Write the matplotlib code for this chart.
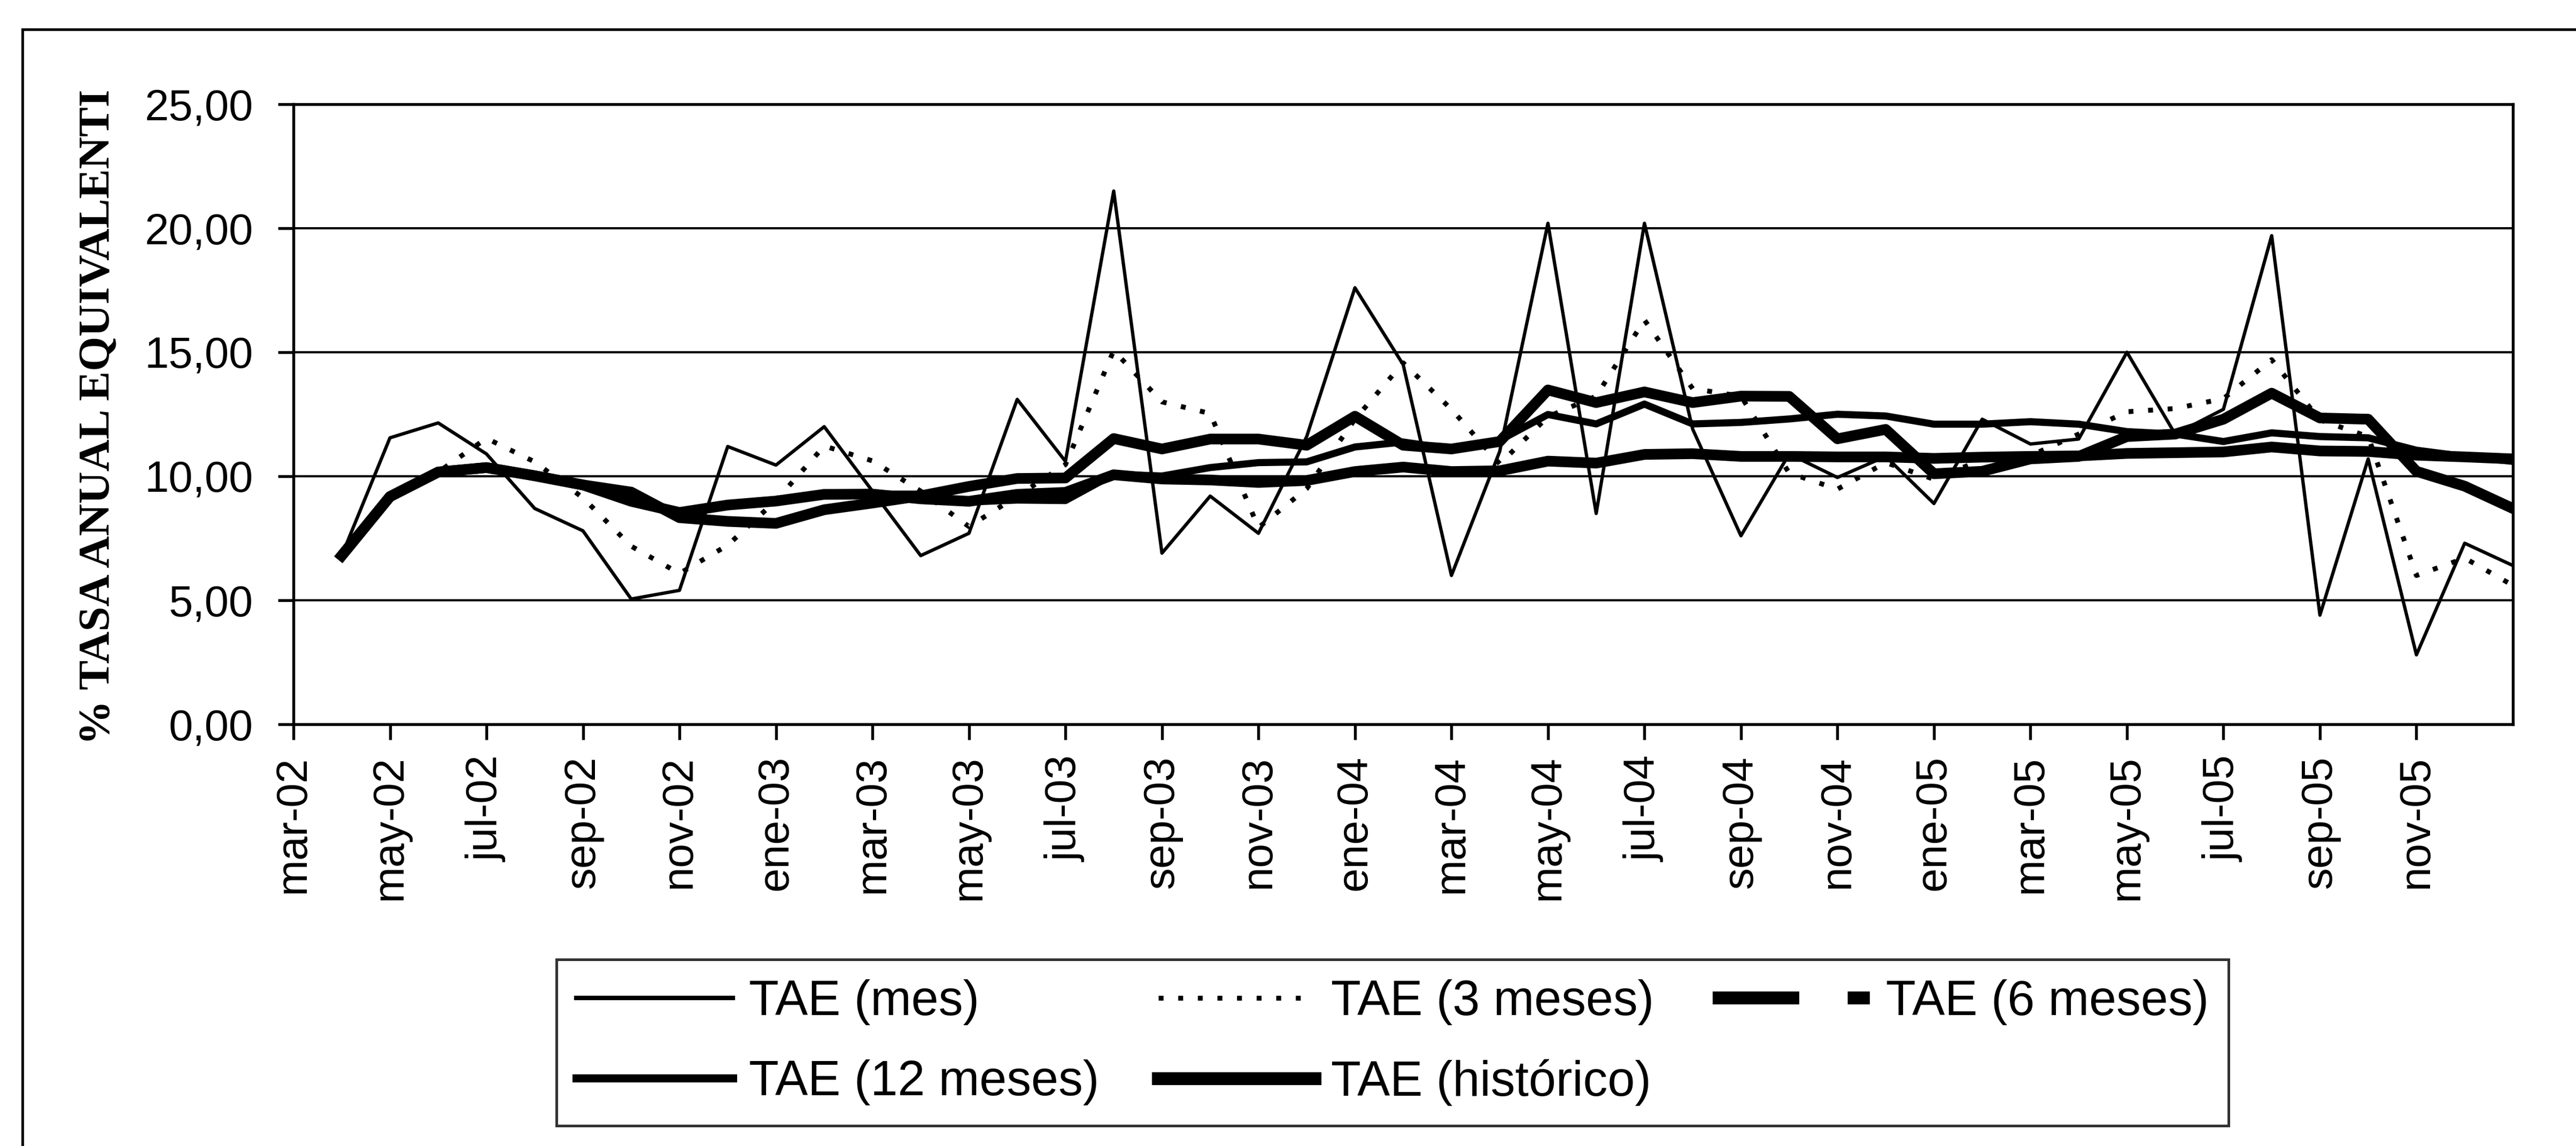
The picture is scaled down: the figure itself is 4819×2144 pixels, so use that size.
import numpy as np
import matplotlib
matplotlib.use("Agg")
import matplotlib.pyplot as plt
from matplotlib.lines import Line2D
from matplotlib.patches import Rectangle

plt.rcParams['font.family'] = ['Liberation Sans', 'DejaVu Sans']

# ---- data (abr-02 ... ene-06, monthly) ----
categories = ['abr-02', 'may-02', 'jun-02', 'jul-02', 'ago-02', 'sep-02', 'oct-02', 'nov-02', 'dic-02',
              'ene-03', 'feb-03', 'mar-03', 'abr-03', 'may-03', 'jun-03', 'jul-03', 'ago-03', 'sep-03',
              'oct-03', 'nov-03', 'dic-03', 'ene-04', 'feb-04', 'mar-04', 'abr-04', 'may-04', 'jun-04',
              'jul-04', 'ago-04', 'sep-04', 'oct-04', 'nov-04', 'dic-04', 'ene-05', 'feb-05', 'mar-05',
              'abr-05', 'may-05', 'jun-05', 'jul-05', 'ago-05', 'sep-05', 'oct-05', 'nov-05', 'dic-05',
              'ene-06']

tae_mes = [6.8, 11.55, 12.15, 10.9, 8.7, 7.8, 5.05, 5.4, 11.2, 10.45, 12.0, 9.4, 6.8, 7.7, 13.1,
           10.6, 21.5, 6.9, 9.2, 7.7, 11.6, 17.6, 14.5, 6.0, 11.0, 20.2, 8.5, 20.2, 11.9, 7.6,
           10.9, 9.95, 10.8, 8.9, 12.3, 11.3, 11.5, 15.0, 11.7, 12.7, 19.7, 4.4, 10.7, 2.8, 7.3, 6.4]

tae_3m = [6.8, 9.18, 10.17, 11.53, 10.58, 9.13, 7.18, 6.08, 7.22, 9.02, 11.22, 10.62, 9.4, 7.97,
          9.2, 10.47, 15.07, 13.0, 12.53, 7.93, 9.5, 12.3, 14.57, 12.7, 10.5, 12.4, 13.23, 16.3,
          13.53, 13.23, 10.13, 9.48, 10.55, 9.88, 10.67, 10.83, 11.7, 12.6, 12.73, 13.13, 14.7,
          12.27, 11.6, 6.0, 6.7, 5.6]

tae_6m = [6.8, 9.18, 10.17, 10.35, 10.02, 9.65, 9.36, 8.33, 8.18, 8.1, 8.65, 8.92, 9.21, 9.59,
          9.91, 9.93, 11.52, 11.1, 11.5, 11.5, 11.25, 12.42, 11.25, 11.1, 11.4, 13.48, 12.97, 13.4,
          12.97, 13.23, 13.22, 11.51, 11.89, 10.1, 10.2, 10.7, 10.8, 11.6, 11.7, 12.3,
          13.35, 12.35, 12.3, 10.2, 9.6, 8.7]

tae_12m = [6.8, 9.18, 10.17, 10.35, 10.02, 9.65, 8.99, 8.54, 8.84, 9.0, 9.27, 9.28, 9.28, 8.96,
           9.04, 9.02, 10.08, 10.01, 10.35, 10.55, 10.58, 11.18, 11.38, 11.1, 11.45, 12.49, 12.11,
           12.91, 12.11, 12.17, 12.31, 12.5, 12.43, 12.1, 12.1, 12.2, 12.1, 11.8, 11.7,
           11.4, 11.75, 11.6, 11.55, 11.05, 10.8, 10.6]

tae_hist = [6.8, 9.18, 10.17, 10.35, 10.02, 9.65, 8.99, 8.54, 8.84, 9.0, 9.27, 9.28, 9.09, 8.99,
            9.27, 9.35, 10.06, 9.89, 9.85, 9.75, 9.83, 10.19, 10.37, 10.19, 10.22, 10.61, 10.53,
            10.88, 10.91, 10.8, 10.8, 10.78, 10.78, 10.72, 10.77, 10.8, 10.82, 10.92, 10.95,
            10.98, 11.18, 11.02, 11.0, 10.85, 10.78, 10.7]

tick_labels = ['mar-02', 'may-02', 'jul-02', 'sep-02', 'nov-02', 'ene-03', 'mar-03', 'may-03',
               'jul-03', 'sep-03', 'nov-03', 'ene-04', 'mar-04', 'may-04', 'jul-04', 'sep-04',
               'nov-04', 'ene-05', 'mar-05', 'may-05', 'jul-05', 'sep-05', 'nov-05']
y_ticks = [0, 5, 10, 15, 20, 25]

series_names = ['TAE (mes)', 'TAE (3 meses)', 'TAE (6 meses)', 'TAE (12 meses)', 'TAE (histórico)']

# ---- figure ----
W, H = 4819, 2144
fig = plt.figure(figsize=(W / 300, H / 300), dpi=300)
fig.patch.set_facecolor('white')

L, R, T, B = 549, 4701, 195, 1355
ax = fig.add_axes([L / W, 1 - B / H, (R - L) / W, (B - T) / H])

x = np.arange(1, len(categories) + 1)
ax.plot(x, tae_mes, color='black', lw=1.5, zorder=3)
ax.plot(x, tae_3m, color='black', lw=2.2, linestyle=(0, (1, 3)), zorder=3)
ax.plot(x, tae_6m, color='black', lw=4.8, zorder=4)
ax.plot(x, tae_12m, color='black', lw=3.2, zorder=4)
ax.plot(x, tae_hist, color='black', lw=4.8, zorder=4)

ax.set_xlim(0, len(categories))
ax.set_ylim(0, 25)
ax.set_yticks(y_ticks)
ax.set_yticklabels([f"{v:.2f}".replace('.', ',') for v in y_ticks])
ax.set_xticks(range(0, 2 * len(tick_labels), 2))
ax.set_xticklabels(tick_labels, rotation=90)

ax.yaxis.grid(True, color='black', lw=1.0)
ax.set_axisbelow(True)
for s in ax.spines.values():
    s.set_linewidth(1.3)
    s.set_color('black')
ax.tick_params(axis='both', direction='out', length=7, width=1.3, labelsize=19.5, colors='black')
ax.tick_params(axis='x', pad=7)
ax.tick_params(axis='y', pad=11)

fig.text(185 / W, 1 - 780 / H, '% TASA ANUAL EQUIVALENTI', rotation=90, ha='center', va='center',
         fontfamily=['Liberation Serif', 'DejaVu Serif'], fontweight='bold', fontsize=20)

# outer frame (extends beyond the right and bottom edges)
fig.add_artist(Rectangle((42 / W, -0.1), 1.2, 1 - 55 / H + 0.1, transform=fig.transFigure,
                         fill=False, edgecolor='black', lw=1.2))

# legend
h_mes = Line2D([], [], color='black', lw=2.0)
h_3m = Line2D([], [], color='black', lw=2.2, linestyle=(0, (1, 3)))
h_6m = Line2D([], [], color='black', lw=5.8, linestyle=(0, (6.7, 3.75, 1.9, 10)))
h_12m = Line2D([], [], color='black', lw=3.6)
h_hist = Line2D([], [], color='black', lw=5.8)
handles = [h_mes, h_12m, h_3m, h_hist, h_6m]
labels = [series_names[0], series_names[3], series_names[1], series_names[4], series_names[2]]
leg = fig.legend(handles, labels, ncol=3, loc='upper left',
                 bbox_to_anchor=(1041 / W, 1 - 1795 / H), bbox_transform=fig.transFigure,
                 borderaxespad=0, frameon=True, fancybox=False, shadow=False,
                 fontsize=22, handlelength=3.2, handletextpad=0.33, columnspacing=1.2,
                 labelspacing=0.7, borderpad=0.4)
leg.get_frame().set_edgecolor('black')
leg.get_frame().set_linewidth(1.2)

fig.savefig('out.png', dpi=300, facecolor='white')
